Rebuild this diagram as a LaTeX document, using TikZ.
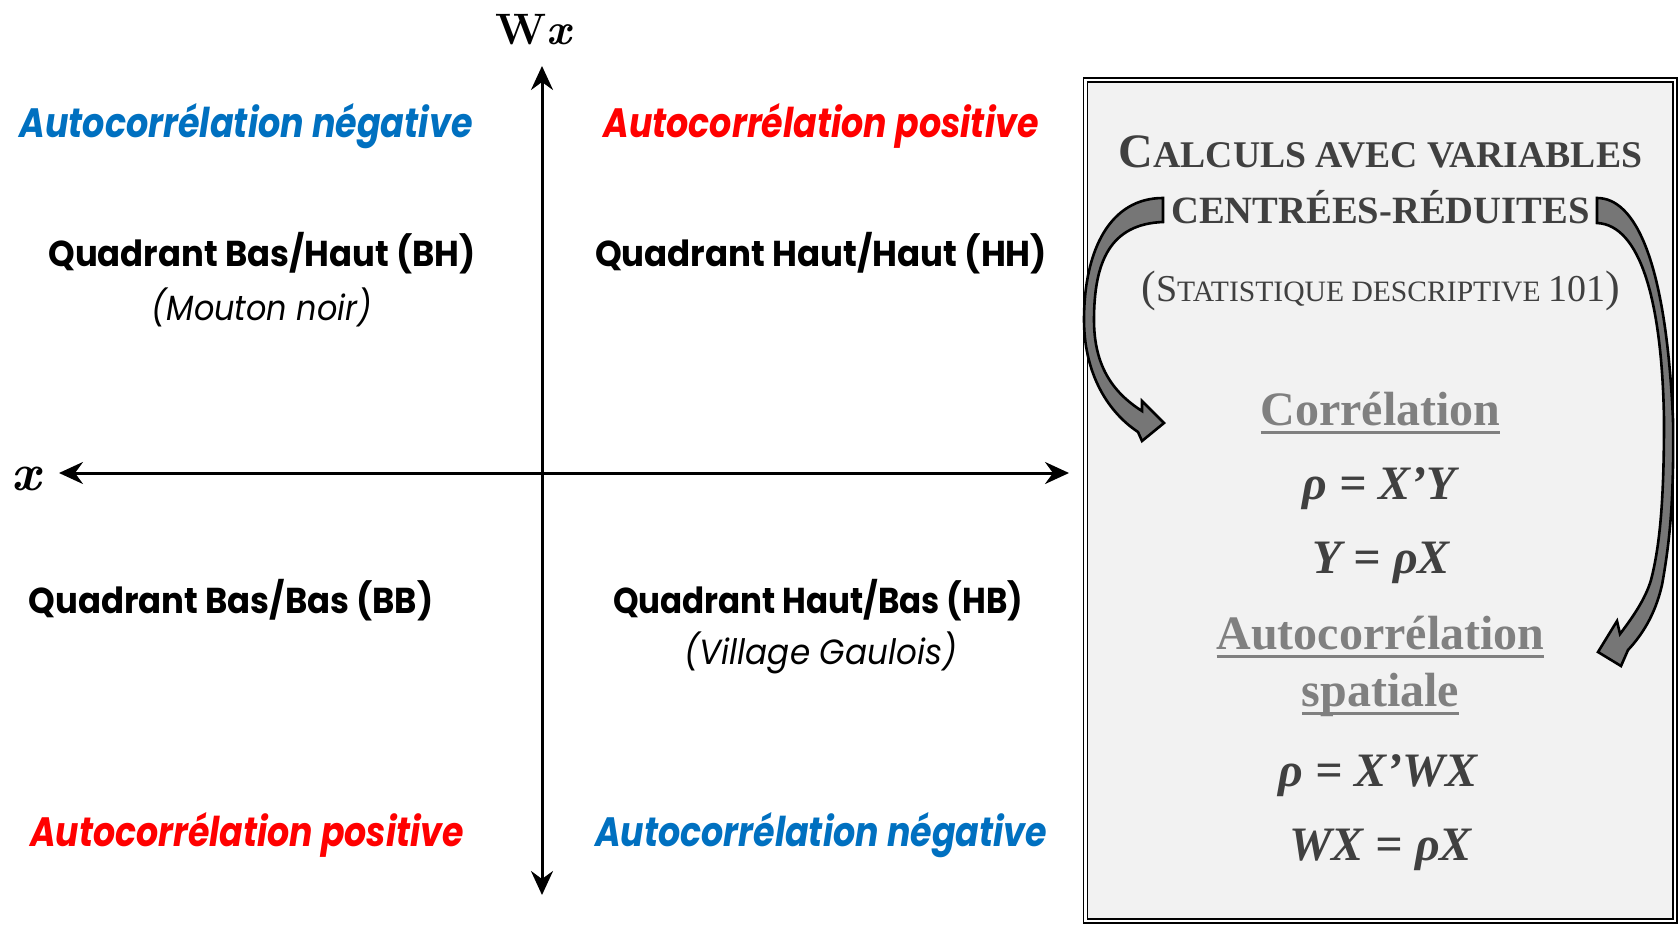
\documentclass[tikz,border=0pt]{standalone}
\usepackage{fontspec}
\usepackage{graphicx}
\usetikzlibrary{arrows.meta}
\newfontfamily\pop{Poppins}
\newfontfamily\tnr{Liberation Serif}
\definecolor{ublue}{HTML}{0070C0}
\definecolor{ured}{HTML}{FF0000}
\definecolor{dgray}{HTML}{404040}
\definecolor{mgray}{HTML}{808080}
\definecolor{boxfill}{HTML}{F2F2F2}
\definecolor{arrfill}{HTML}{767676}
\newsavebox\ulb
\newcommand\ulx[1]{\sbox\ulb{#1}\rlap{\usebox\ulb}\rule[-9pt]{\wd\ulb}{3pt}}
\newcommand\fitw[2]{\resizebox{#1}{\height}{#2}}
\newcommand\fs[1]{\fontsize{#1}{#1}\selectfont}
\tikzset{
  lab/.style={inner sep=0pt, anchor=base},
  futb/.style={lab, font=\pop\bfseries},
  futbi/.style={lab, font=\pop\bfseries\itshape},
  futi/.style={lab, font=\pop\itshape},
  serb/.style={lab, font=\tnr\bfseries},
  sereq/.style={lab, font=\tnr\bfseries\itshape, text=dgray},
  axisline/.style={line width=3pt, {Stealth[length=24pt,width=22pt,inset=8pt]}-{Stealth[length=24pt,width=22pt,inset=8pt]}},
  blockarr/.style={draw=black, line width=2.6pt, fill=arrfill, line join=miter},
  frame/.style={draw=black, line width=1.6pt, double=white, double distance=2.2pt, fill=boxfill, inner sep=0pt}
}
\begin{document}
\begin{tikzpicture}[x=1pt,y=-1pt]
\useasboundingbox (0,0) rectangle (1680,925);
% right panel
\node[frame, minimum width=589.5pt, minimum height=841pt] (box) at (1380.25,500.5) {};
% axes
\coordinate (vt) at (542,66);
\coordinate (vb) at (542,895);
\coordinate (hl) at (59,473);
\coordinate (hr) at (1069,473);
\draw[axisline] (vt) -- (vb);
\draw[axisline] (hl) -- (hr);
\node[lab] (wx) at (533,45) {\fs{44}\bfseries W\itshape x};
\node[lab] (xx) at (26,490) {\fs{52}\bfseries\itshape x};
% quadrant labels
\node[futbi, text=ublue] (tl) at (246,138) {\fs{41}\fitw{453pt}{Autocorrélation négative}};
\node[futbi, text=ured] (tr) at (821,138) {\fs{41}\fitw{435pt}{Autocorrélation positive}};
\node[futb] (qbh) at (262,267) {\fs{36}\fitw{427pt}{Quadrant Bas/Haut (BH)}};
\node[futi] (mn) at (262,320) {\fs{35}\fitw{220pt}{(Mouton noir)}};
\node[futb] (qhh) at (821,267) {\fs{36}\fitw{452pt}{Quadrant Haut/Haut (HH)}};
\node[futb] (qbb) at (231,613) {\fs{36}\fitw{405pt}{Quadrant Bas/Bas (BB)}};
\node[futb] (qhb) at (818,613) {\fs{36}\fitw{410pt}{Quadrant Haut/Bas (HB)}};
\node[futi] (vg) at (821,664) {\fs{35}\fitw{272pt}{(Village Gaulois)}};
\node[futbi, text=ured] (bl) at (247,846) {\fs{41}\fitw{434pt}{Autocorrélation positive}};
\node[futbi, text=ublue] (br) at (821,846) {\fs{41}\fitw{452pt}{Autocorrélation négative}};
% panel texts
\node[serb, text=dgray] (t1) at (1380.5,168) {\fs{48}C\fs{37.7}ALCULS AVEC VARIABLES};
\node[serb, text=dgray] (t2) at (1380.5,224) {\fs{38.6}CENTRÉES-RÉDUITES};
\node[lab, font=\tnr, text=dgray] (t3) at (1380.5,301) {\fs{44}(\fs{38}S\fs{29.6}TATISTIQUE DESCRIPTIVE \fs{38}101\fs{44})};
\node[serb, text=mgray] (cor) at (1380.5,425) {\fs{48}\ulx{Corrélation}};
\node[sereq] (e1) at (1379.5,499) {\fs{48}ρ = X’Y};
\node[sereq] (e2) at (1381,573) {\fs{48}Y = ρX};
\node[serb, text=mgray] (ac1) at (1380.5,649) {\fs{48}\ulx{Autocorrélation}};
\node[serb, text=mgray] (ac2) at (1380.5,706) {\fs{48}\ulx{spatiale}};
\node[sereq] (e3) at (1378,786) {\fs{48}ρ = X’WX};
\node[sereq] (e4) at (1380.5,860) {\fs{48}WX = ρX};
% curved block arrows
\draw[blockarr] (1163,198) .. controls (1110,198) and (1084,250) .. (1084,320)
  .. controls (1084,370) and (1105,410) .. (1138,432) -- (1142,441) -- (1164,423) -- (1142,401) -- (1142,411)
  .. controls (1112,392) and (1094,365) .. (1094,320)
  .. controls (1094,262) and (1110,224) .. (1163,222) -- cycle;
\draw[blockarr] (1597,198) .. controls (1635,198) and (1666,260) .. (1673,420)
  .. controls (1674,500) and (1670,540) .. (1662,585)
  .. controls (1655,615) and (1642,635) .. (1628,650) -- (1621,666) -- (1598,652) -- (1617,621) -- (1620,634)
  .. controls (1632,618) and (1645,600) .. (1651,580)
  .. controls (1660,545) and (1664,500) .. (1664,420)
  .. controls (1662,300) and (1640,225) .. (1597,223) -- cycle;
\end{tikzpicture}
\end{document}
